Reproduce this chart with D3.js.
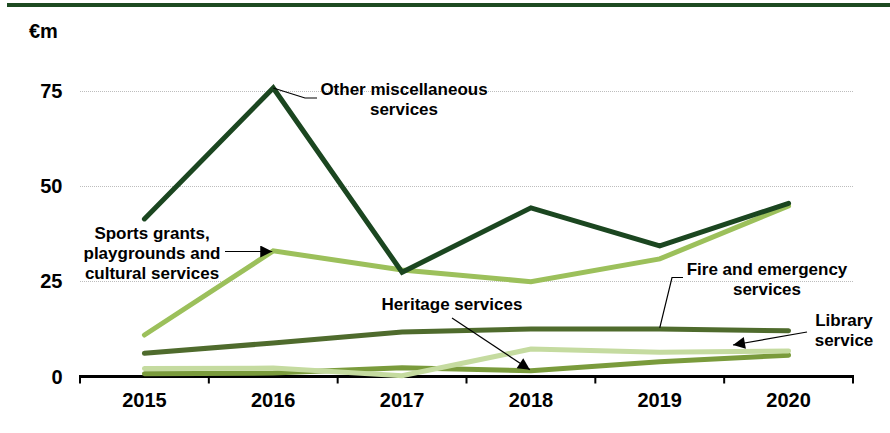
<!DOCTYPE html>
<html>
<head>
<meta charset="utf-8">
<script src="https://cdn.jsdelivr.net/npm/d3@7/dist/d3.min.js"></script>
<style>
  html, body { margin: 0; padding: 0; background: #fff; }
  svg { display: block; font-family: "Liberation Sans", Arial, sans-serif; }
</style>
</head>
<body>
<svg id="chart" width="890" height="433"></svg>
<script>
// Local authority spending by service, €m
const years = ["2015", "2016", "2017", "2018", "2019", "2020"];
const otherMisc = [41.4, 75.8, 27.4, 44.3, 34.3, 45.5];
const sportsGrants = [10.9, 33.0, 28.0, 24.9, 30.9, 44.8];
const fireEmergency = [6.1, 8.8, 11.7, 12.5, 12.5, 12.0];
const heritage = [0.7, 0.9, 2.3, 1.5, 3.9, 5.6];
const library = [2.1, 2.2, 0.2, 7.2, 6.4, 6.7];
const yTicks = [0, 25, 50, 75];

const seriesList = [
  { name: "Heritage services", values: heritage, color: "#7a9b3c" },
  { name: "Library service", values: library, color: "#c5dba0" },
  { name: "Fire and emergency services", values: fireEmergency, color: "#4f6b2d" },
  { name: "Sports grants, playgrounds and cultural services", values: sportsGrants, color: "#9cc05b" },
  { name: "Other miscellaneous services", values: otherMisc, color: "#1b4620" }
];

const svg = d3.select("#chart");
const x0 = 80, x1 = 853;
const x = d3.scaleBand().domain(years).range([x0, x1]);
const y = d3.scaleLinear().domain([0, 75]).range([376.5, 91]);
const xc = d => x(d) + x.bandwidth() / 2;

// header rule
svg.append("rect").attr("x", 7).attr("y", 3).attr("width", 883).attr("height", 4).attr("fill", "#1d4a21");

// unit label
svg.append("text").attr("x", 29).attr("y", 38).attr("font-size", 20).attr("font-weight", "bold").text("€m");

// gridlines
svg.append("g").selectAll("line").data(yTicks.filter(t => t > 0)).join("line")
  .attr("x1", x0).attr("x2", x1)
  .attr("y1", d => Math.round(y(d)) + 0.5).attr("y2", d => Math.round(y(d)) + 0.5)
  .attr("stroke", "#bdbdbd").attr("stroke-width", 1).attr("stroke-dasharray", "1,1");

// y labels
svg.append("g").selectAll("text").data(yTicks).join("text")
  .attr("x", 62.5).attr("y", d => y(d) + 7)
  .attr("text-anchor", "end").attr("font-size", 20).attr("font-weight", "bold")
  .text(d => d);

// x axis
const xAxis = d3.axisBottom(x).tickSize(0).tickPadding(0);
const gx = svg.append("g").attr("transform", `translate(0,${y(0)})`).call(xAxis);
gx.select(".domain").remove();
gx.selectAll("text").attr("font-size", 20).attr("font-weight", "bold").attr("fill", "#000")
  .attr("font-family", "Liberation Sans, Arial, sans-serif").attr("dy", 0).attr("y", 30);
svg.append("line").attr("x1", x0 - 1).attr("x2", x1 + 1).attr("y1", y(0)).attr("y2", y(0))
  .attr("stroke", "#000").attr("stroke-width", 3);
const bounds = years.map(d => x(d)).concat([x1]);
svg.append("g").selectAll("line").data(bounds).join("line")
  .attr("x1", d => d).attr("x2", d => d).attr("y1", y(0)).attr("y2", y(0) + 7)
  .attr("stroke", "#000").attr("stroke-width", 2);

// series lines
const line = d3.line().x((v, i) => xc(years[i])).y(v => y(v));
svg.append("g").selectAll("path").data(seriesList).join("path")
  .attr("d", d => line(d.values))
  .attr("fill", "none").attr("stroke", d => d.color).attr("stroke-width", 5)
  .attr("stroke-linecap", "round").attr("stroke-linejoin", "miter");

// arrowhead marker
svg.append("defs").append("marker").attr("id", "arrow")
  .attr("viewBox", "0 0 10 10").attr("refX", 10).attr("refY", 5)
  .attr("markerWidth", 15).attr("markerHeight", 12).attr("markerUnits", "userSpaceOnUse")
  .attr("orient", "auto")
  .append("path").attr("d", "M0,0 L10,5 L0,10 Z").attr("fill", "#000");

const ann = svg.append("g").attr("font-size", 17).attr("font-weight", "bold").attr("fill", "#000");
function label(lines, cx, by, anchor) {
  const t = ann.append("text").attr("text-anchor", anchor || "middle");
  lines.forEach((s, i) => t.append("tspan").attr("x", cx).attr("y", by + i * 20).text(s));
}

// Other miscellaneous services
svg.append("path")
  .attr("d", `M${xc("2016")},${y(otherMisc[1])} L305,98 L317,98`)
  .attr("fill", "none").attr("stroke", "#000").attr("stroke-width", 1.2);
label(["Other miscellaneous", "services"], 404, 95);

// Sports grants
svg.append("line").attr("x1", 225).attr("y1", 251.5).attr("x2", xc("2016") - 1).attr("y2", 251.5)
  .attr("stroke", "#000").attr("stroke-width", 1.2).attr("marker-end", "url(#arrow)");
label(["Sports grants,", "playgrounds and", "cultural services"], 152, 239);

// Heritage services
svg.append("line").attr("x1", 452).attr("y1", 318).attr("x2", xc("2018") - 1).attr("y2", y(heritage[3]) - 1)
  .attr("stroke", "#000").attr("stroke-width", 1.2).attr("marker-end", "url(#arrow)");
label(["Heritage services"], 452, 310);

// Fire and emergency services
svg.append("path")
  .attr("d", `M683,277.5 L672,277.5 L${xc("2019")},${y(fireEmergency[4]) - 1}`)
  .attr("fill", "none").attr("stroke", "#000").attr("stroke-width", 1.2);
label(["Fire and emergency", "services"], 767, 275);

// Library service
svg.append("line").attr("x1", 807).attr("y1", 332).attr("x2", 733).attr("y2", 345)
  .attr("stroke", "#000").attr("stroke-width", 1.2).attr("marker-end", "url(#arrow)");
label(["Library", "service"], 844, 326);
</script>
</body>
</html>
